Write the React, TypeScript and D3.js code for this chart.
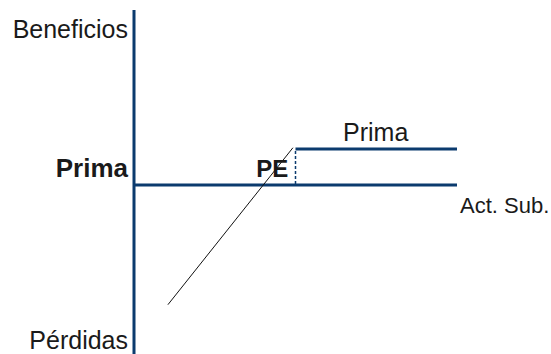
import React from "react";
import * as d3 from "d3";

// Payoff chart (short put style): underlying price on x, profit on y
const xDomain = [0, 10];
const yDomain = [-10, 10];
const strike = 5;
const premium = 2;
const axisYExtent = [-9.4, 9.72];
const axisXExtent = [0, 10];
const lossLine: [number, number][] = [
  [1.05, -6.65],
  [4.92, 2.07],
];
const premiumLine: [number, number][] = [
  [5, 2],
  [10, 2],
];
const breakEven = 4;

const labels = {
  up: "Beneficios",
  down: "Pérdidas",
  premiumAxis: "Prima",
  premiumTop: "Prima",
  be: "PE",
  xName: "Act. Sub.",
};

const W = 551;
const H = 354;
const NAVY = "#0b3b6e";
const TEXT = "#1a1a1a";
const FONT = "'Liberation Sans', Arial, sans-serif";

export default function App() {
  const x = d3.scaleLinear().domain(xDomain).range([134, 457]);
  const y = d3.scaleLinear().domain(yDomain).range([365, 5]);
  const line = d3
    .line<[number, number]>()
    .x((d) => x(d[0]))
    .y((d) => y(d[1]));

  return (
    <svg
      width={W}
      height={H}
      style={{ position: "absolute", left: 0, top: 0, background: "#fff" }}
      fontFamily={FONT}
    >
      {/* vertical axis */}
      <line
        x1={x(0)}
        x2={x(0)}
        y1={y(axisYExtent[1])}
        y2={y(axisYExtent[0])}
        stroke={NAVY}
        strokeWidth={3}
      />
      {/* horizontal axis */}
      <line
        x1={x(axisXExtent[0])}
        x2={x(axisXExtent[1])}
        y1={y(0)}
        y2={y(0)}
        stroke={NAVY}
        strokeWidth={3}
      />
      {/* premium flat line */}
      <path d={line(premiumLine) || ""} stroke={NAVY} strokeWidth={3} fill="none" />
      {/* dotted strike line */}
      <line
        x1={x(strike)}
        x2={x(strike)}
        y1={y(premium) + 2}
        y2={y(0) - 1}
        stroke={NAVY}
        strokeWidth={1.5}
        strokeDasharray="3,2"
      />
      {/* loss line */}
      <path d={line(lossLine) || ""} stroke="#111" strokeWidth={1} fill="none" />

      {/* labels */}
      <text x={128} y={38} textAnchor="end" fontSize={25} fill={TEXT}>
        {labels.up}
      </text>
      <text x={128} y={349} textAnchor="end" fontSize={25} fill={TEXT}>
        {labels.down}
      </text>
      <text x={128} y={y(0) - 8} textAnchor="end" fontSize={26} fontWeight="bold" fill={TEXT}>
        {labels.premiumAxis}
      </text>
      <text x={343} y={141} fontSize={25} fill={TEXT}>
        {labels.premiumTop}
      </text>
      <text x={x(breakEven) - 7} y={y(0) - 8} fontSize={24} fontWeight="bold" fill={TEXT}>
        {labels.be}
      </text>
      <text x={460} y={213} fontSize={22} fill={TEXT}>
        {labels.xName}
      </text>
    </svg>
  );
}
